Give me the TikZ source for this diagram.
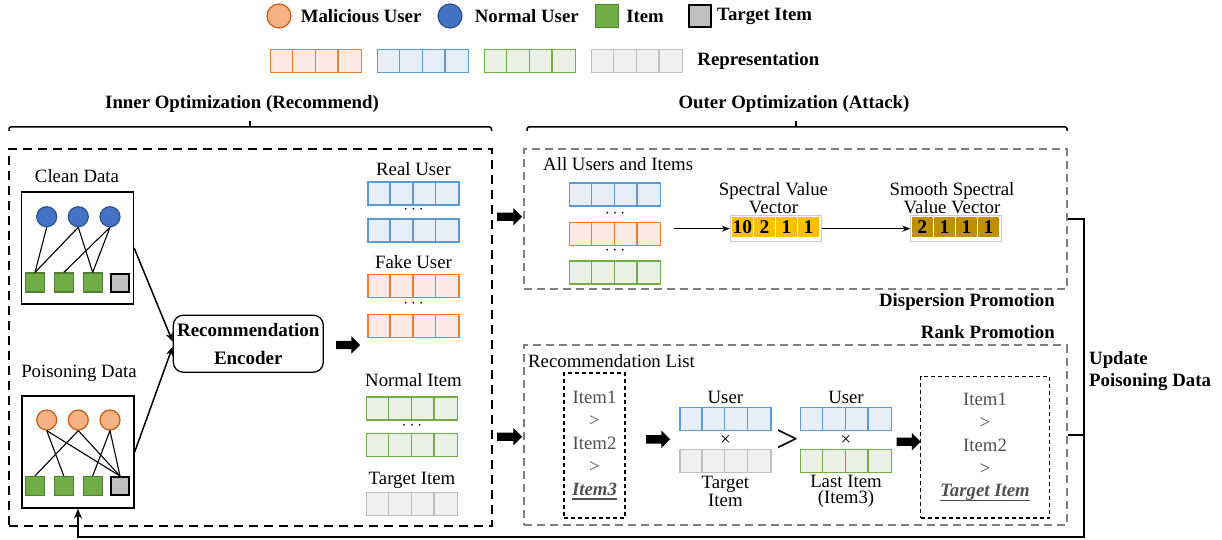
\documentclass[tikz,border=0pt]{standalone}
\usepackage{fontspec}
\setmainfont{Liberation Serif}
\usetikzlibrary{arrows.meta,positioning,shapes.arrows}

\definecolor{malfill}{HTML}{F4B183}
\definecolor{malline}{HTML}{C55A11}
\definecolor{norfill}{HTML}{4472C4}
\definecolor{norline}{HTML}{2F528F}
\definecolor{itemfill}{HTML}{70AD47}
\definecolor{itemline}{HTML}{507E32}
\definecolor{tgtfill}{HTML}{BFBFBF}
\definecolor{orgline}{HTML}{ED7D31}
\definecolor{orgfill}{HTML}{FBEAE4}
\definecolor{bluline}{HTML}{5B9BD5}
\definecolor{blufill}{HTML}{E8EEF7}
\definecolor{grnline}{HTML}{70AD47}
\definecolor{grnfill}{HTML}{EBF0E6}
\definecolor{gryline}{HTML}{BFBFBF}
\definecolor{gryfill}{HTML}{F0F0F0}
\definecolor{specyel}{HTML}{FFC000}
\definecolor{specgold}{HTML}{BF9000}
\definecolor{dashgray}{HTML}{7F7F7F}
\definecolor{listgray}{HTML}{505050}

\newcommand{\reprbar}[3]{%
  \node[bar, draw=#3line, fill=#3fill] (#1) at (#2) {};
  \foreach \k in {1,2,3}
    \draw[#3line, line width=1.5pt] ([xshift=\k*22.75pt]#1.north west) -- ([xshift=\k*22.75pt]#1.south west);
}
\newcommand{\ulitem}[1]{\setbox0\hbox{#1}\rlap{\rule[-4.5pt]{\wd0}{1.8pt}}\box0}

\begin{document}
\begin{tikzpicture}[
  x=1pt, y=-1pt,
  font=\fontsize{18.8}{16}\selectfont, inner sep=0pt,
  lbl/.style={font=\fontsize{18.8}{22}\selectfont\bfseries},
  bar/.style={rectangle, line width=1.5pt, minimum width=91pt, minimum height=23pt},
  nuser/.style={circle, draw=norline, fill=norfill, line width=1.2pt, minimum size=20pt},
  muser/.style={circle, draw=malline, fill=malfill, line width=1.2pt, minimum size=20pt},
  item/.style={rectangle, draw=itemline, fill=itemfill, line width=1.2pt, minimum size=19pt},
  target/.style={rectangle, draw=black, fill=tgtfill, line width=2pt, minimum size=18pt},
  graphbox/.style={rectangle, draw, line width=1.3pt, minimum width=112pt, minimum height=112pt},
  edge/.style={line width=1.1pt},
  encoder/.style={rectangle, rounded corners=10pt, draw, line width=1.3pt, minimum width=150pt, minimum height=57pt, align=center, font=\fontsize{19}{27.6}\selectfont\bfseries},
  link/.style={line width=1.5pt, -{Stealth[length=9pt,width=7pt]}},
  flow/.style={line width=1.5pt, -{Stealth[length=8pt,width=6pt]}},
  fatarrow/.style={single arrow, fill=black, inner xsep=0pt, inner ysep=4pt, single arrow head extend=4.5pt, minimum height=24pt},
  bigdash/.style={rectangle, draw, line width=2pt, dash pattern=on 9pt off 6pt},
  graydash/.style={rectangle, draw=dashgray, line width=2pt, dash pattern=on 8pt off 5pt},
  listbox/.style={rectangle, draw, line width=1.3pt, dash pattern=on 4pt off 3pt, align=center, text=listgray, font=\fontsize{18.8}{22.8}\selectfont},
  cell/.style={rectangle, minimum width=20.5pt, minimum height=20pt, font=\fontsize{19.5}{19}\selectfont\bfseries},
  vecbox/.style={rectangle, draw=black!20, fill=white, line width=0.8pt, minimum width=91pt, minimum height=26pt},
  twoline/.style={align=center, font=\fontsize{18.8}{16}\selectfont},
  brace/.style={line width=1.5pt, rounded corners=2pt},
  feedback/.style={line width=2pt}
]
\useasboundingbox (0,0) rectangle (1222,540);

% legend
\node[muser, minimum size=24pt] (lgmal) at (279,16) {};
\node[lbl, right=9pt of lgmal] (lgmaltxt) {Malicious User};
\node[nuser, minimum size=24pt] (lgnor) at (450,16) {};
\node[lbl, right=12pt of lgnor] (lgnortxt) {Normal User};
\node[item, minimum size=23pt] (lgitem) at (607,16) {};
\node[lbl, right=7pt of lgitem] (lgitemtxt) {Item};
\node[target, minimum size=22pt] (lgtgt) at (700,16) {};
\node[lbl, right=5pt of lgtgt] (lgtgttxt) {Target Item};

\reprbar{lgorg}{316,61}{org}
\reprbar{lgblu}{423,61}{blu}
\reprbar{lggrn}{530,61}{grn}
\reprbar{lggry}{637,61}{gry}
\node[lbl, right=14pt of lggry] (lgrepr) {Representation};

% titles
\node[lbl] (innertitle) at (242,104) {Inner Optimization (Recommend)};
\node[lbl] (outertitle) at (794,104) {Outer Optimization (Attack)};
\draw[brace] (9,131) -- (9,127) -- (491.5,127) -- (491.5,131);
\draw[brace] (250,127) -- (250,121);
\draw[brace] (527,131) -- (527,127) -- (1067,127) -- (1067,131);
\draw[brace] (796,127) -- (796,121);

% inner optimization
\node[bigdash, minimum width=483pt, minimum height=377pt] (innerbox) at (250.5,337.5) {};

\node (cleanlbl) at (77,176) {Clean Data};
\node[graphbox] (clean) at (77.5,248) {};
\foreach \x [count=\i] in {46.7,78.3,110}
  \node[nuser] (u\i) at (\x,216.7) {};
\foreach \x [count=\i] in {35,63.8,92.7}
  \node[item] (ci\i) at (\x,282.5) {};
\node[target] (ci4) at (120,282.5) {};
\foreach \a/\b in {1/1,2/1,2/3,3/2,3/3}
  \draw[edge] (u\a.south) -- (ci\b.north);

\node (poisonlbl) at (79,373) {Poisoning Data};
\node[graphbox] (poison) at (78,452) {};
\foreach \x [count=\i] in {46.7,78.3,110}
  \node[muser] (m\i) at (\x,420) {};
\foreach \x [count=\i] in {35,63.8,92.7}
  \node[item] (pi\i) at (\x,486) {};
\node[target] (pi4) at (120,486) {};
\foreach \a/\b in {1/2,1/4,2/1,2/4,3/3,3/4}
  \draw[edge] (m\a.south) -- (pi\b.north);

\node[encoder] (enc) at (248.3,343.7) {Recommendation\\Encoder};
\draw[link] (clean.east) -- ([yshift=2pt]enc.west);
\draw[link] (poison.east) -- ([yshift=-3pt]enc.west);
\node[fatarrow] (encout) at (346,345) {};

\node (realu) at (413.5,169) {Real User};
\reprbar{ru1}{413.5,193.7}{blu}
\node (rudots) at (413.5,210) {$\cdots$};
\reprbar{ru2}{413.5,230.3}{blu}
\node (fakeu) at (413.5,261.7) {Fake User};
\reprbar{fu1}{413.5,286}{org}
\node (fudots) at (413.5,304) {$\cdots$};
\reprbar{fu2}{413.5,326}{org}
\node (normi) at (413.5,380) {Normal Item};
\reprbar{ni1}{412,408.3}{grn}
\node (nidots) at (412,425.5) {$\cdots$};
\reprbar{ni2}{412,445}{grn}
\node (tgti) at (412,480.7) {Target Item};
\reprbar{ti1}{412,504}{gry}

% outer optimization
\node[fatarrow, minimum height=25pt] (toarrow1) at (507.5,216.7) {};
\node[fatarrow, minimum height=25pt] (toarrow2) at (507.5,436.7) {};

\node[graydash, minimum width=542.7pt, minimum height=139.7pt] (dispbox) at (795.3,219.2) {};
\node[anchor=west] (alllbl) at (543,164) {All Users and Items};
\reprbar{ab1}{615,194.5}{blu}
\node (abdots1) at (615,213.5) {$\cdots$};
\reprbar{ab2}{615,234}{org}
\node (abdots2) at (615,250.5) {$\cdots$};
\reprbar{ab3}{615,272.5}{grn}

\node[vecbox] (spec) at (775.7,228.7) {};
\foreach \v [count=\i] in {10,2,1,1}
  \node[cell, fill=specyel] (sv\i) at (720.2+22.1*\i,227) {\v};
\node[twoline] (speclbl) at (773.5,198) {Spectral Value\\Vector};
\coordinate (specin) at (673.6,228.7);
\draw[flow] (specin) -- (spec.west);

\node[vecbox] (smooth) at (956.2,228.7) {};
\foreach \v [count=\i] in {2,1,1,1}
  \node[cell, fill=specgold] (gv\i) at (900.2+22.1*\i,227) {\v};
\node[twoline] (smoothlbl) at (952,198) {Smooth Spectral\\Value Vector};
\draw[flow] (spec.east) -- (smooth.west);

\node[lbl, anchor=east] (displbl) at (1055,302) {Dispersion Promotion};
\node[lbl, anchor=east] (ranklbl) at (1055,332) {Rank Promotion};

\node[graydash, minimum width=542.7pt, minimum height=180pt] (rankbox) at (795.3,435) {};
\node[anchor=west] (reclbl) at (528,360.7) {Recommendation List};
\node[listbox, minimum width=61pt, minimum height=145pt] (reclist) at (594.5,445.5)
  {Item1\\>\\Item2\\>\\\ulitem{\textbf{\textit{Item3}}}};
\node[fatarrow] (listout) at (656,439.3) {};

\node (user1) at (725.4,397.7) {User};
\reprbar{ub1}{725.4,418.8}{blu}
\node (times1) at (725.4,440.7) {×};
\reprbar{tb1}{725.4,460.8}{gry}
\node[twoline] (tgtlbl) at (725.4,491.5) {Target\\Item};

\node[font=\fontsize{40}{40}\selectfont] (gtsign) at (787.7,440.7) {>};

\node (user2) at (846,397.7) {User};
\reprbar{ub2}{846,418.8}{blu}
\node (times2) at (846,440.7) {×};
\reprbar{lb2}{846,460.8}{grn}
\node[twoline] (lastlbl) at (846,491.5) {Last Item\\(Item3)};

\node[fatarrow] (cmpout) at (906.5,441.7) {};
\node[listbox, minimum width=129pt, minimum height=141.3pt] (newlist) at (985,447.3)
  {Item1\\>\\Item2\\>\\\ulitem{\textbf{\textit{Target Item}}}};

% update poisoning data
\node[lbl, anchor=west, align=left] (updlbl) at (1089,371) {Update\\Poisoning Data};
\coordinate (fbc) at (1084.3,536.7);
\draw[feedback, -{Stealth[length=10pt,width=8pt]}] (dispbox.east) -| (fbc) -| (poison.south);
\draw[feedback] (rankbox.east) -- (rankbox.east -| fbc);

\end{tikzpicture}
\end{document}
